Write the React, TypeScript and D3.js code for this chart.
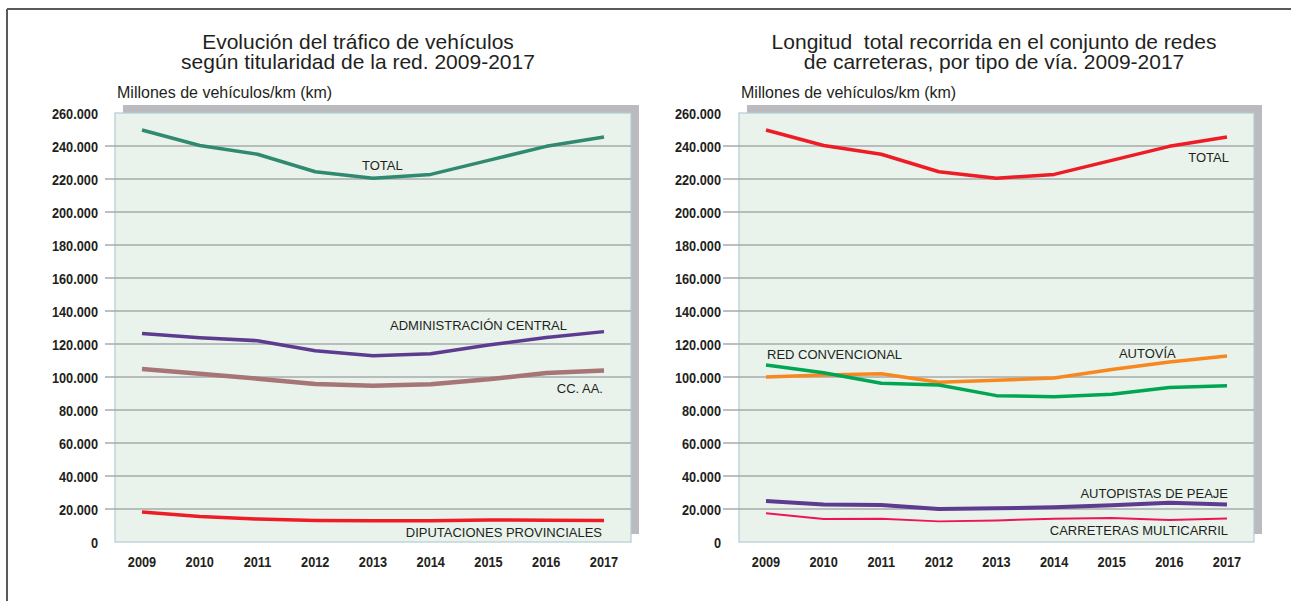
import React from "react";
import * as d3 from "d3";

const years = [2009, 2010, 2011, 2012, 2013, 2014, 2015, 2016, 2017];
const yTicks = [0, 20000, 40000, 60000, 80000, 100000, 120000, 140000, 160000, 180000, 200000, 220000, 240000, 260000];

// Evolución del tráfico según titularidad (millones veh-km)
const total = [249700, 240300, 235000, 224400, 220400, 222800, 231300, 239800, 245500];
const adminCentral = [126300, 123800, 122000, 115900, 112900, 114100, 119400, 124000, 127500];
const ccaa = [104800, 102000, 99000, 95800, 94700, 95600, 98600, 102400, 104000];
const diputaciones = [18200, 15400, 13900, 13100, 12900, 12900, 13300, 13200, 13100];

// Por tipo de vía
const autovia = [100000, 101200, 102000, 96800, 98000, 99400, 104600, 109100, 112700];
const redConvencional = [107300, 102600, 96200, 95200, 88700, 88100, 89500, 93700, 94700];
const autopistasPeaje = [24800, 22800, 22400, 20000, 20400, 21000, 22200, 23800, 22800];
const multicarril = [17400, 13900, 14100, 12500, 13100, 14100, 14500, 13300, 14300];

const esLocale = d3.formatLocale({ decimal: ",", thousands: ".", grouping: [3], currency: ["", " €"] });
const fmt = esLocale.format(",");

const FONT = "'Liberation Sans', Arial, Helvetica, sans-serif";

type Series = { values: number[]; color: string; width: number };
type Label = { text: string; year: number; value: number; anchor: string; dx: number };

// texto en negrita "estrecho": Liberation Sans comprimido en horizontal
const Narrow = ({ x, y, anchor, children }: { x: number; y: number; anchor: string; children: any }) => (
  <g transform={`translate(${x},${y}) scale(0.85,1)`}>
    <text x={0} y={0} textAnchor={anchor} fontFamily={FONT} fontWeight="bold" fontSize={15} fill="#231f20">{children}</text>
  </g>
);

const Chart = ({ left, width, labelRight, gridStart, titleX, title, series, labels }: {
  left: number; width: number; labelRight: number; gridStart: number; titleX: number;
  title: string[]; series: Series[]; labels: Label[];
}) => {
  const y = d3.scaleLinear().domain([0, 260000]).range([542, 113]);
  const x = d3.scalePoint<number>().domain(years).range([left + 27, left + width - 27]);
  const line = d3.line<number>()
    .x((_, i) => x(years[i]) as number)
    .y(d => y(d));
  const top = y(260000);
  const bottom = y(0);

  return (
    <g>
      {title.map((t, i) => (
        <text key={i} x={titleX} y={49 + i * 20} textAnchor="middle" fontFamily={FONT} fontSize={21}
          fill="#231f20" style={{ whiteSpace: "pre" }}>{t}</text>
      ))}
      <text x={left + 2} y={98} fontFamily={FONT} fontSize={16} fill="#231f20">Millones de vehículos/km (km)</text>

      {/* sombra y panel */}
      <rect x={left + 8} y={top - 8} width={width} height={bottom - top} fill="#b9bbbf" />
      <rect x={left} y={top} width={width} height={bottom - top} fill="#e9f3ec" stroke="#b4cbd3" strokeWidth={1.2} />

      {yTicks.filter(t => t > 0 && t < 260000).map(t => (
        <line key={t} x1={gridStart} x2={left + width} y1={y(t)} y2={y(t)} stroke="#a6abaa" strokeWidth={1.5} />
      ))}
      {yTicks.map(t => (
        <Narrow key={t} x={labelRight} y={y(t) + 5.5} anchor="end">{fmt(t)}</Narrow>
      ))}
      {years.map(yr => (
        <Narrow key={yr} x={x(yr) as number} y={567} anchor="middle">{yr}</Narrow>
      ))}

      {series.map((s, i) => (
        <path key={i} d={line(s.values) || ""} fill="none" stroke={s.color} strokeWidth={s.width}
          strokeLinecap="butt" strokeLinejoin="round" />
      ))}
      {labels.map((l, i) => (
        <text key={i} x={(x(l.year) as number) + l.dx} y={y(l.value)} textAnchor={l.anchor}
          fontFamily={FONT} fontSize={13} fill="#231f20">{l.text}</text>
      ))}
    </g>
  );
};

export default function App() {
  return (
    <svg width={1291} height={601} style={{ position: "absolute", left: 0, top: 0, background: "#fff" }}>
      <line x1={7} x2={1291} y1={9} y2={9} stroke="#5a5a5a" strokeWidth={2} />
      <line x1={7} x2={7} y1={9} y2={601} stroke="#5a5a5a" strokeWidth={2} />
      <Chart
        left={115} width={516} labelRight={98} gridStart={105} titleX={358}
        title={["Evolución del tráfico de vehículos", "según titularidad de la red. 2009-2017"]}
        series={[
          { values: total, color: "#2f8a6f", width: 3.5 },
          { values: adminCentral, color: "#5d3b8e", width: 3.5 },
          { values: ccaa, color: "#a77576", width: 4.5 },
          { values: diputaciones, color: "#ee1c25", width: 3.5 },
        ]}
        labels={[
          { text: "TOTAL", year: 2013, value: 225500, anchor: "start", dx: -11 },
          { text: "ADMINISTRACIÓN CENTRAL", year: 2017, value: 128500, anchor: "end", dx: -37 },
          { text: "CC. AA.", year: 2017, value: 90300, anchor: "end", dx: -1 },
          { text: "DIPUTACIONES PROVINCIALES", year: 2017, value: 3000, anchor: "end", dx: -2 },
        ]}
      />
      <Chart
        left={739} width={515} labelRight={721} gridStart={723} titleX={994}
        title={["Longitud  total recorrida en el conjunto de redes", "de carreteras, por tipo de vía. 2009-2017"]}
        series={[
          { values: total, color: "#ee1c25", width: 3.5 },
          { values: autovia, color: "#f7871f", width: 3.5 },
          { values: redConvencional, color: "#00a651", width: 3.5 },
          { values: autopistasPeaje, color: "#5d3b8e", width: 4 },
          { values: multicarril, color: "#ee1556", width: 2 },
        ]}
        labels={[
          { text: "TOTAL", year: 2017, value: 230300, anchor: "end", dx: 2 },
          { text: "RED CONVENCIONAL", year: 2009, value: 110900, anchor: "start", dx: 1 },
          { text: "AUTOVÍA", year: 2016, value: 111500, anchor: "middle", dx: -22 },
          { text: "AUTOPISTAS DE PEAJE", year: 2017, value: 26700, anchor: "end", dx: 1 },
          { text: "CARRETERAS MULTICARRIL", year: 2017, value: 4200, anchor: "end", dx: 1 },
        ]}
      />
    </svg>
  );
}
